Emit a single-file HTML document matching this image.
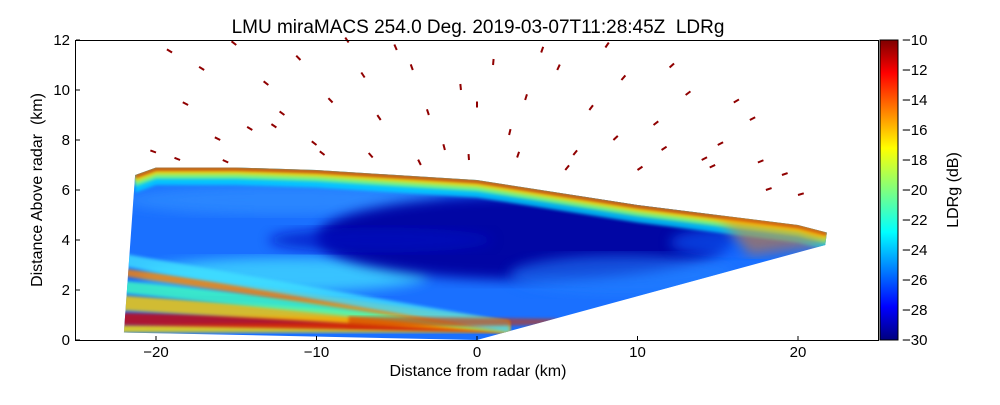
<!DOCTYPE html>
<html><head><meta charset="utf-8"><style>
body{margin:0;background:#fff;font-family:"Liberation Sans",sans-serif}
svg text{font-family:"Liberation Sans",sans-serif}
</style></head><body>
<svg id="c" width="1000" height="400">
<defs>
<linearGradient id="cb" x1="0" y1="1" x2="0" y2="0">
<stop offset="0" stop-color="#00007f"/><stop offset="0.11" stop-color="#0000ff"/>
<stop offset="0.36" stop-color="#00ffff"/><stop offset="0.5" stop-color="#7fff7f"/>
<stop offset="0.64" stop-color="#ffff00"/><stop offset="0.89" stop-color="#ff0000"/>
<stop offset="1" stop-color="#7f0000"/></linearGradient>
<clipPath id="fan"><polygon id="fanpoly"/></clipPath>
<filter id="blur"><feGaussianBlur stdDeviation="6"/></filter>
<filter id="blur2"><feGaussianBlur stdDeviation="1.5"/></filter>
</defs>
<g id="scatter"></g>
<g id="data" clip-path="url(#fan)"></g>
<rect x="75.5" y="40.5" width="803" height="300" fill="none" stroke="#000"/>
<g id="axes"></g>
<text x="478" y="33" font-size="19" text-anchor="middle">LMU miraMACS 254.0 Deg. 2019-03-07T11:28:45Z&#160; LDRg</text>
<text x="478" y="376" font-size="16" text-anchor="middle">Distance from radar (km)</text>
<text transform="translate(42,190) rotate(-90)" font-size="16" text-anchor="middle">Distance Above radar&#160; (km)</text>
<rect x="880" y="40" width="18" height="300" fill="url(#cb)" stroke="#000"/>
<text transform="translate(958,190) rotate(-90)" font-size="16" text-anchor="middle">LDRg (dB)</text>
</svg>
<script>
const xTicks=[-20,-10,0,10,20];
const yTicks=[0,2,4,6,8,10,12];
const cbTicks=[-10,-12,-14,-16,-18,-20,-22,-24,-26,-28,-30];
const topX=[-21.3,-20,-15,-10,-5,0,5,10,15,20,21.8];
const topY=[6.6,6.9,6.9,6.8,6.6,6.4,5.9,5.4,5.0,4.6,4.3];
const botX=[21.7,0,-22];
const botY=[3.8,0,0.3];
const ns="http://www.w3.org/2000/svg";
const X=v=>477+v*16.05, Y=v=>340-v*25;
const svg=document.getElementById('c'),axes=document.getElementById('axes'),dg=document.getElementById('data');
function mk(t,a,p){const e=document.createElementNS(ns,t);for(const k in a)e.setAttribute(k,a[k]);(p||svg).appendChild(e);return e;}
let pts=topX.map((x,i)=>X(x)+','+Y(topY[i]));
pts=pts.concat(botX.map((x,i)=>X(x)+','+Y(botY[i])));
document.getElementById('fanpoly').setAttribute('points',pts.join(' '));
let e=mk('rect',{x:60,y:30,width:820,height:320,fill:'#1a70ff'},dg);

const layers=[
 [-12,2.6,9,0.7,'#40d8ff',0.8],[-12,5.6,10,0.6,'#3090ff',0.7],
 [3,4.1,13,1.7,'#0000a0',0.95],[-6,4.0,7,0.5,'#0010c0',0.7],
 [9,2.6,7,0.8,'#2080ff',0.6],[16,3.9,4,0.6,'#1060ff',0.6]
];
layers.forEach(l=>{const el=mk('ellipse',{cx:X(l[0]),cy:Y(l[1]),rx:l[2]*16.05,ry:l[3]*25,fill:l[4],opacity:l[5],filter:'url(#blur)'},dg);
});
const fringe=[[0.7,'#00d8ff'],[0.45,'#90ff70'],[0.28,'#ffd000'],[0.12,'#c00000']];
fringe.forEach(f=>{const p=topX.map((x,i)=>X(x)+','+Y(topY[i])).concat(topX.slice().reverse().map((x,i)=>{const j=topX.length-1-i;return X(x)+','+Y(topY[j]-f[0]);}));
const el=mk('polygon',{points:p.join(' '),fill:f[1],opacity:0.8,filter:'url(#blur2)'},dg);
});
e=mk('polygon',{points:[X(15),Y(5.0),X(21.8),Y(4.3),X(21.7),Y(3.8),X(17),Y(3.4)].join(' '),fill:'#ff8000',opacity:0.5,filter:'url(#blur)'},dg);

const stripes=[[0.3,0.6,'#ffe000'],[0.6,1.1,'#d00000'],[1.2,1.8,'#ffd000'],[1.9,2.4,'#40ffc0'],[2.6,2.9,'#ff8000'],[3.0,3.5,'#40e0ff']];
stripes.forEach(s=>{const el=mk('polygon',{points:[X(-22.5),Y(s[1]),X(-22.5),Y(s[0]),X(2),Y(0.3),X(2),Y(0.75)].join(' '),fill:s[2],opacity:0.8,filter:'url(#blur2)'},dg);
});
e=mk('polygon',{points:[X(-8),Y(0.5),X(5),Y(0.6),X(5),Y(0.85),X(-8),Y(0.95)].join(' '),fill:'#d03000',opacity:0.6,filter:'url(#blur2)'},dg);

const scX=[-19,-17,-15,-13,-11,-9,-7,-5,-3,-1,1,3,5,7,9,11,13,15,17,19,-18,-14,-10,-6,-2,2,6,10,14,18,-16,-12,-8,-4,0,4,8,12,16,-20,-18.5,-15.5,-12.5,-9.5,-6.5,-3.5,-0.5,2.5,5.5,8.5,11.5,14.5,17.5,20];
const scY=[11.5,10.8,11.8,10.2,11.2,9.5,10.5,11.6,9,10,11,9.6,10.8,9.2,10.4,8.6,9.8,7.8,8.8,6.6,9.4,8.4,7.8,8.8,7.6,8.2,7.4,6.8,7.2,6,8,9,11.9,10.8,9.3,11.5,11.7,10.9,9.5,7.5,7.2,7.1,8.5,7.4,7.3,7.0,7.2,7.3,6.8,8.0,7.6,6.9,7.1,5.8];
const sg=document.getElementById('scatter');
scX.forEach((x,i)=>{const a=Math.atan2(scY[i],x);const l=6;
const el=mk('line',{x1:X(x),y1:Y(scY[i]),x2:X(x)+Math.cos(a)*l,y2:Y(scY[i])-Math.sin(a)*l,stroke:'#900000','stroke-width':2},sg);
});
xTicks.forEach(t=>{let el=mk('line',{x1:X(t),x2:X(t),y1:340,y2:336,stroke:'#000'},axes);

el=mk('text',{x:X(t),y:357,'font-size':15,'text-anchor':'middle'},axes);el.textContent=t<0?'\u2212'+(-t):t;
});
yTicks.forEach(t=>{let el=mk('line',{x1:76,x2:80,y1:Y(t),y2:Y(t),stroke:'#000'},axes);

el=mk('text',{x:70,y:Y(t)+5,'font-size':15,'text-anchor':'end'},axes);el.textContent=t;
});
cbTicks.forEach(t=>{const y=340+(t+30)*(-15);
let el=mk('line',{x1:894,x2:898,y1:y,y2:y,stroke:'#000'},axes);

el=mk('text',{x:902,y:y+5,'font-size':15},axes);el.textContent='\u2212'+(-t);
});
</script>
</body></html>
